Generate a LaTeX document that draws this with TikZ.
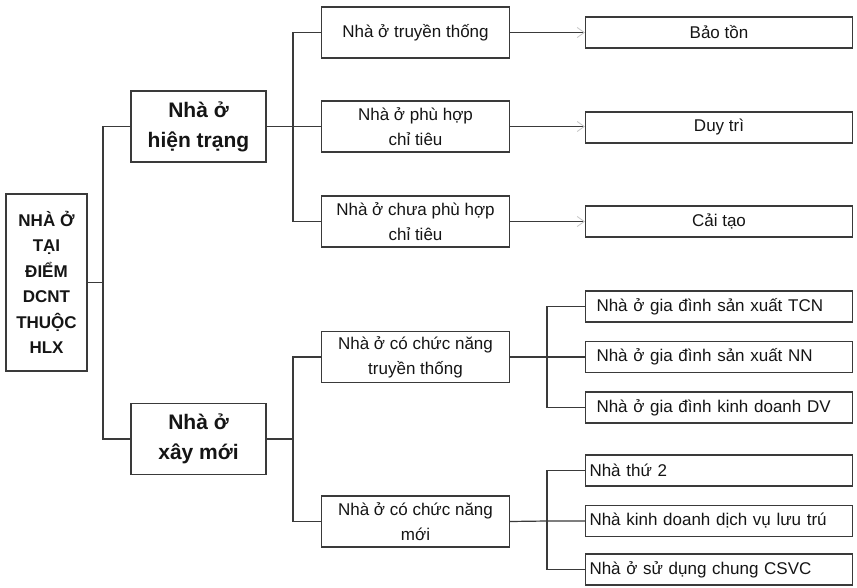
\documentclass[tikz,border=0pt]{standalone}
\usepackage{fontspec}
\setmainfont{Liberation Sans}
\usetikzlibrary{arrows.meta}
\definecolor{linec}{HTML}{3A3A3A}
\definecolor{txtc}{HTML}{151515}
\tikzset{
  box/.style={draw=linec, line width=1.2pt, inner sep=0pt, text=txtc, align=center},
  rootbox/.style={box, minimum width=81pt, minimum height=177pt, font=\fontsize{17}{25.5}\selectfont\bfseries},
  lonebox/.style={box, minimum width=135pt, minimum height=71pt, font=\fontsize{21}{30}\selectfont\bfseries},
  ltwobox/.style={box, minimum width=188pt, minimum height=51pt, font=\fontsize{17}{25}\selectfont},
  lthreebox/.style={box, minimum width=267pt, minimum height=31pt, font=\fontsize{17}{20}\selectfont},
  lleftbox/.style={box, minimum height=31pt, align=left, font=\fontsize{17}{20}\selectfont},
  conn/.style={draw=linec, line width=1.2pt},
  arr/.style={conn, -{Straight Barb[length=7pt,width=10pt,line width=0.8pt,color=gray!45]}},
}
\begin{document}
\begin{tikzpicture}[x=1pt,y=-1pt]
\fill[white] (0,0) rectangle (857,588);
\useasboundingbox (0,0) rectangle (857,588);

\node[rootbox] (root) at (46.5,282.5) {NHÀ Ở\\TẠI\\ĐIỂM\\DCNT\\THUỘC\\HLX};
\node[lonebox] (hien) at (198.5,126.5) {Nhà ở\\hiện trạng};
\node[lonebox] (xay) at (198.5,439) {Nhà ở\\xây mới};

\node[ltwobox] (b1) at (415.5,32.5) {Nhà ở truyền thống};
\node[ltwobox] (b2) at (415.5,126.5) {Nhà ở phù hợp\\chỉ tiêu};
\node[ltwobox] (b3) at (415.5,221.5) {Nhà ở chưa phù hợp\\chỉ tiêu};
\node[ltwobox] (c1) at (415.5,357) {Nhà ở có chức năng\\truyền thống};
\node[ltwobox] (c2) at (415.5,521.5) {Nhà ở có chức năng\\mới};

\node[lthreebox] (r1) at (719,32.5) {Bảo tồn};
\node[lthreebox] (r2) at (719,127.5) {Duy trì};
\node[lthreebox] (r3) at (719,221.5) {Cải tạo};

\node[lleftbox, inner xsep=11pt, text width=245pt] (d1) at (719,306.5) {Nhà ở gia đình sản xuất TCN};
\node[lleftbox, inner xsep=11pt, text width=245pt] (d2) at (719,357) {Nhà ở gia đình sản xuất NN};
\node[lleftbox, inner xsep=11pt, text width=245pt] (d3) at (719,407.5) {Nhà ở gia đình kinh doanh DV};
\node[lleftbox, inner xsep=4pt, text width=259pt] (e1) at (719,470.5) {Nhà thứ 2};
\node[lleftbox, inner xsep=4pt, text width=259pt] (e2) at (719,521) {Nhà kinh doanh dịch vụ lưu trú};
\node[lleftbox, inner xsep=4pt, text width=259pt] (e3) at (719,569.5) {Nhà ở sử dụng chung CSVC};

\coordinate (j1) at (103,282.5);
\coordinate (j2) at (293,126.5);
\coordinate (j3) at (293,439);
\coordinate (j4) at (547,357);
\coordinate (j5) at (547,521);

\draw[conn] (root.east) -- (j1);
\draw[conn] (hien.west) -| (j1) |- (xay.west);

\draw[conn] (hien.east) -- (b2.west);
\draw[conn] (b1.west) -| (j2) |- (b3.west);

\draw[conn] (xay.east) -- (j3);
\draw[conn] (c1.west) -| (j3) |- (c2.west);

\draw[conn] (c1.east) -- (d2.west);
\draw[conn] (d1.west) -| (j4) |- (d3.west);

\draw[conn] (c2.east) -- (j5) |- (e2.west);
\draw[conn] (e1.west) -| (j5) |- (e3.west);

\draw[arr] (b1.east) -- (b1.east -| r1.west);
\draw[arr] (b2.east) -- (b2.east -| r2.west);
\draw[arr] (b3.east) -- (b3.east -| r3.west);
\end{tikzpicture}
\end{document}
